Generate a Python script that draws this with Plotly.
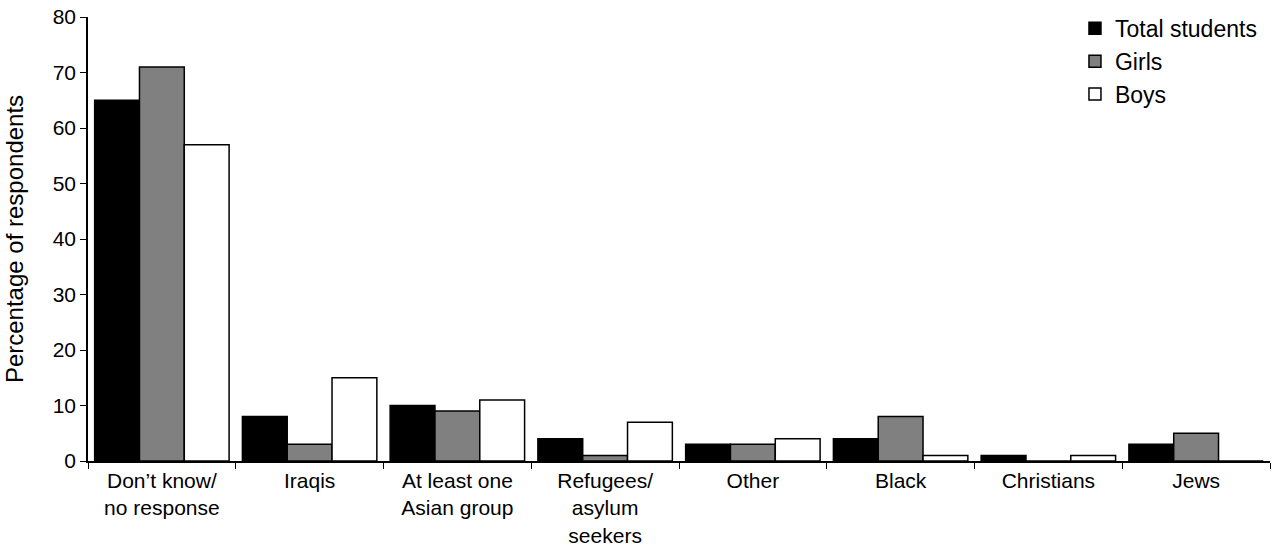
import plotly.graph_objects as go

categories = ["Don’t know/<br>no response", "Iraqis", "At least one<br>Asian group",
              "Refugees/<br>asylum<br>seekers", "Other", "Black", "Christians", "Jews"]
total_students = [65, 8, 10, 4, 3, 4, 1, 3]
girls = [71, 3, 9, 1, 3, 8, 0, 5]
boys = [57, 15, 11, 7, 4, 1, 1, 0]

FONT = "Liberation Sans, Arial, sans-serif"

fig = go.Figure()
for name, vals, color in [("Total students", total_students, "#000000"),
                          ("Girls", girls, "#808080"),
                          ("Boys", boys, "#ffffff")]:
    fig.add_trace(go.Bar(name=name, x=categories, y=vals,
                         marker=dict(color=color, line=dict(color="#000000", width=1.5))))

fig.update_layout(
    width=1276, height=552,
    barmode="group", bargap=0.09, bargroupgap=0,
    plot_bgcolor="white", paper_bgcolor="white",
    margin=dict(l=88, r=6, t=17, b=91, autoexpand=False),
    font=dict(family=FONT, size=21, color="#000000"),
    legend=dict(x=0.835, y=1.023, xanchor="left", yanchor="top",
                font=dict(size=23), itemwidth=30, tracegroupgap=0,
                bgcolor="rgba(0,0,0,0)"),
    showlegend=True,
)
fig.update_xaxes(showline=True, linecolor="black", linewidth=1.5, automargin=False,
                 ticks="outside", tickson="boundaries", ticklen=6, tickcolor="black",
                 tickfont=dict(size=21), showgrid=False)
fig.update_yaxes(range=[0, 80], dtick=10, showline=True, linecolor="black", linewidth=1.5,
                 automargin=False, ticklabeloverflow="allow",
                 ticks="outside", ticklen=6, tickcolor="black", showgrid=False, zeroline=False,
                 tickfont=dict(size=21),
                 title=dict(text="Percentage of respondents", font=dict(size=24), standoff=22))

# remove the browser's default 8px body margin so the figure fills the window exactly
fig.write_html("out.html", config={"displayModeBar": False},
               post_script="document.body.style.margin='0';")
